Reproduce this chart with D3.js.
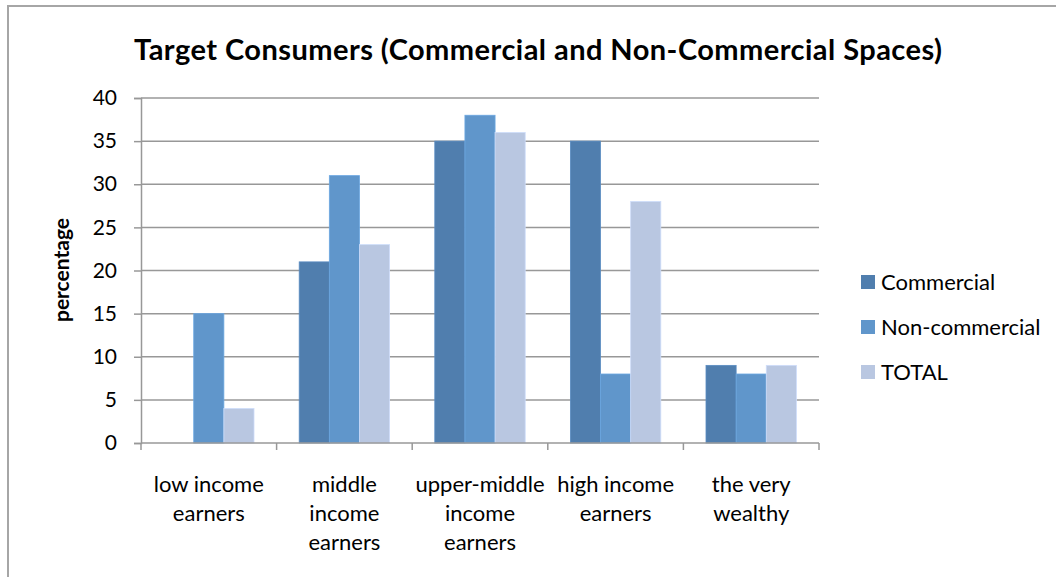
<!DOCTYPE html>
<html>
<head>
<meta charset="utf-8">
<script src="https://cdn.jsdelivr.net/npm/d3@7"></script>
<style>
  body { margin: 0; background: #fff; }
  svg text { font-family: Lato, "Open Sans", sans-serif; fill: #000; }
</style>
</head>
<body>
<script>
// chart data
const categories = [
  ["low income", "earners"],
  ["middle", "income", "earners"],
  ["upper-middle", "income", "earners"],
  ["high income", "earners"],
  ["the very", "wealthy"]
];
const seriesNames = ["Commercial", "Non-commercial", "TOTAL"];
const commercial = [0, 21, 35, 35, 9];
const nonCommercial = [15, 31, 38, 8, 8];
const total = [4, 23, 36, 28, 9];
const yTicks = [0, 5, 10, 15, 20, 25, 30, 35, 40];

const colors = ["#507eae", "#6096cb", "#b9c7e1"];
const series = [commercial, nonCommercial, total];

const width = 1056, height = 577;
const plotLeft = 141, plotRight = 819, plotTop = 98, plotBottom = 443;

const svg = d3.select("body").append("svg")
  .attr("width", width)
  .attr("height", height);

// outer frame
svg.append("rect")
  .attr("x", 8).attr("y", 6)
  .attr("width", width + 10).attr("height", height + 10)
  .attr("fill", "none")
  .attr("stroke", "#a6a6a6")
  .attr("stroke-width", 2);

svg.append("text")
  .attr("x", 538).attr("y", 60)
  .attr("text-anchor", "middle")
  .attr("font-size", 29)
  .attr("font-weight", "bold")
  .attr("textLength", 808)
  .text("Target Consumers (Commercial and Non-Commercial Spaces)");

const x0 = d3.scaleBand()
  .domain(d3.range(categories.length))
  .range([plotLeft, plotRight]);

const x1 = d3.scaleBand()
  .domain(d3.range(seriesNames.length))
  .range([0, x0.bandwidth()])
  .paddingOuter(0.75);

const y = d3.scaleLinear().domain([0, 40]).range([plotBottom, plotTop]);

// gridlines
svg.append("g")
  .selectAll("line")
  .data(yTicks.slice(1))
  .join("line")
  .attr("x1", plotLeft).attr("x2", plotRight)
  .attr("y1", d => y(d)).attr("y2", d => y(d))
  .attr("stroke", "#989898")
  .attr("stroke-width", 1.5);

// bars
const groups = svg.append("g")
  .selectAll("g")
  .data(categories)
  .join("g")
  .attr("transform", (d, i) => `translate(${x0(i)},0)`);

groups.selectAll("rect")
  .data((d, i) => series.map((s, k) => ({k, v: s[i]})).filter(e => e.v > 0))
  .join("rect")
  .attr("x", d => x1(d.k))
  .attr("width", x1.bandwidth())
  .attr("y", d => y(d.v))
  .attr("height", d => y(0) - y(d.v))
  .attr("fill", d => colors[d.k])
  .attr("stroke", d => d3.color(colors[d.k]).brighter(0.3))
  .attr("stroke-width", 0.8);

// y axis
const yAxis = svg.append("g")
  .attr("transform", `translate(${plotLeft},0)`)
  .call(d3.axisLeft(y).tickValues(yTicks).tickSize(7).tickPadding(17));
yAxis.select(".domain").attr("stroke", "#989898").attr("stroke-width", 1.5);
yAxis.selectAll(".tick line").attr("stroke", "#989898").attr("stroke-width", 1.5);
yAxis.selectAll("text").attr("font-size", 21).attr("font-family", "Lato, sans-serif");

// x axis
const xAxis = svg.append("g")
  .attr("transform", `translate(0,${plotBottom})`);
xAxis.append("line")
  .attr("x1", plotLeft).attr("x2", plotRight)
  .attr("stroke", "#989898").attr("stroke-width", 1.5);
xAxis.selectAll(".tk")
  .data(d3.range(categories.length + 1))
  .join("line")
  .attr("class", "tk")
  .attr("x1", i => plotLeft + i * x0.bandwidth())
  .attr("x2", i => plotLeft + i * x0.bandwidth())
  .attr("y1", 0).attr("y2", 7)
  .attr("stroke", "#989898").attr("stroke-width", 1.5);

xAxis.selectAll(".lbl")
  .data(categories)
  .join("text")
  .attr("class", "lbl")
  .attr("text-anchor", "middle")
  .attr("font-size", 22)
  .attr("transform", (d, i) => `translate(${x0(i) + x0.bandwidth() / 2},49)`)
  .selectAll("tspan")
  .data(d => d)
  .join("tspan")
  .attr("x", 0)
  .attr("y", (d, j) => j * 29)
  .text(d => d);

// y label
svg.append("text")
  .attr("transform", "translate(69,270) rotate(-90)")
  .attr("text-anchor", "middle")
  .attr("font-size", 21)
  .attr("font-weight", "bold")
  .text("percentage");

// legend
const legend = svg.append("g")
  .selectAll("g")
  .data(seriesNames)
  .join("g")
  .attr("transform", (d, i) => `translate(861,${275 + i * 45})`);
legend.append("rect")
  .attr("width", 14).attr("height", 14)
  .attr("fill", (d, i) => colors[i]);
legend.append("text")
  .attr("x", 20).attr("y", 15)
  .attr("font-size", 22)
  .text(d => d);
</script>
</body>
</html>
